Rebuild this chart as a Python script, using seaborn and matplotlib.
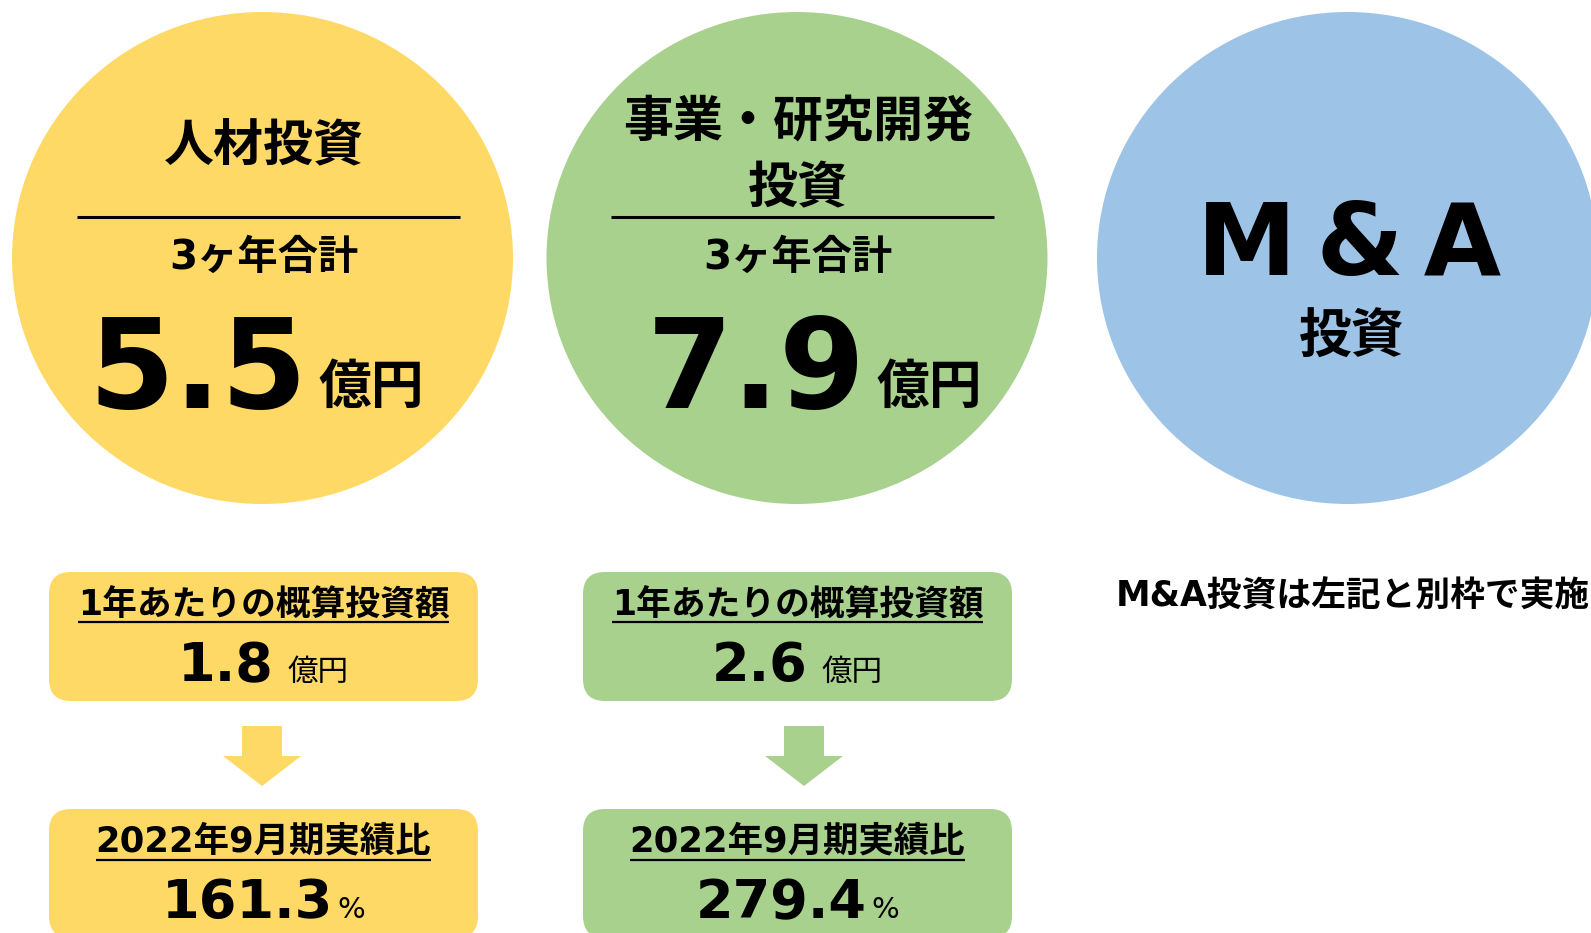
import matplotlib
matplotlib.use("Agg")
import matplotlib.pyplot as plt
from matplotlib.patches import Ellipse, FancyBboxPatch, Polygon
import seaborn as sns

# values
categories = ["人材投資", "事業・研究開発\n投資", "M & A\n投資"]
total_3y = ["5.5", "7.9"]
per_year = ["1.8", "2.6"]
vs_fy2022 = ["161.3", "279.4"]
colors = sns.color_palette(["#FFD966", "#A9D18E", "#9DC3E6"])

label_total = "3ヶ年合計"
label_year = "1年あたりの概算投資額"
label_ratio = "2022年9月期実績比"
unit_oku = "億円"
unit_pct = "%"
note_ma = "M&A投資は左記と別枠で実施"

# layout (pixels, 1 data unit == 1 px)
W, H = 1591, 933
circle_x = [262.5, 797, 1347.5]
circle_y = 258
circle_w, circle_h = 501, 492
box_x = [(49, 478), (583, 1012)]
box_top = [572, 809]
box_h = 129
arrow_x = [262, 804]

CJK = "Noto Sans CJK JP"
MIX = ["DejaVu Sans", CJK]

sns.set_theme(style="white")
plt.rcParams["font.family"] = [CJK, "DejaVu Sans"]
plt.rcParams["text.color"] = "black"

fig = plt.figure(figsize=(W / 100, H / 100), dpi=100)
ax = fig.add_axes([0, 0, 1, 1])
ax.set_xlim(0, W)
ax.set_ylim(H, 0)
ax.axis("off")
renderer = fig.canvas.get_renderer()


def pair(cx, y, big, small, big_kw, small_kw, gap, small_dy=0):
    # number + smaller unit on one baseline, centred as a group
    t1 = ax.text(0, y, big, ha="left", va="baseline", **big_kw)
    t2 = ax.text(0, y + small_dy, small, ha="left", va="baseline", **small_kw)
    w1 = t1.get_window_extent(renderer).width
    w2 = t2.get_window_extent(renderer).width
    x0 = cx - (w1 + gap + w2) / 2
    t1.set_x(x0)
    t2.set_x(x0 + w1 + gap)


def underlined(cx, y, s, size, offset):
    t = ax.text(cx, y, s, ha="center", va="center", fontsize=size,
                fontweight="bold", family=MIX)
    bb = t.get_window_extent(renderer)
    xs = ax.transData.inverted().transform([(bb.x0, 0), (bb.x1, 0)])[:, 0]
    ax.plot(xs, [y + offset, y + offset], color="black", lw=1.6,
            solid_capstyle="butt")


# circles
for i, cx in enumerate(circle_x):
    ax.add_patch(Ellipse((cx, circle_y), circle_w, circle_h, color=colors[i], lw=0))

# invested categories
big_kw = dict(fontsize=89, fontweight="bold", family="DejaVu Sans")
unit_kw = dict(fontsize=38, fontweight="bold", family=CJK)
title_y = [147, 156]
group_dx = [-6, 17]
for i in range(2):
    cx = circle_x[i]
    ax.text(cx + 1, title_y[i], categories[i], ha="center", va="center",
            fontsize=36, fontweight="bold", linespacing=1.38)
    ax.plot([cx - 186, cx + 197], [217, 217], color="black", lw=2.2,
            solid_capstyle="butt")
    ax.text(cx + 1, 258, label_total, ha="center", va="center", fontsize=29,
            fontweight="bold", family=MIX)
    pair(cx + group_dx[i], 408, total_3y[i], unit_oku, big_kw, unit_kw, 11,
         small_dy=-5)

# M&A circle
ma_title, ma_sub = categories[2].split("\n")
ax.text(circle_x[2] + 2, 248, ma_title.replace(" ", "\u2009"), ha="center",
        va="center", fontsize=72, fontweight="bold", family="DejaVu Sans")
ax.text(circle_x[2] + 4, 337, ma_sub, ha="center", va="center", fontsize=38,
        fontweight="bold")

# boxes and arrows
num_kw = dict(fontsize=39, fontweight="bold", family="DejaVu Sans")
oku_kw = dict(fontsize=22, family=CJK)
pct_kw = dict(fontsize=21, family="DejaVu Sans")
for i in range(2):
    x0, x1 = box_x[i]
    cx = (x0 + x1) / 2
    for top in box_top:
        ax.add_patch(FancyBboxPatch((x0, top), x1 - x0, box_h,
                                    boxstyle="round,pad=0,rounding_size=22",
                                    color=colors[i], lw=0))
    a = arrow_x[i]
    ax.add_patch(Polygon([(a - 20, 726), (a + 20, 726), (a + 20, 756),
                          (a + 39, 756), (a, 786), (a - 39, 756),
                          (a - 20, 756)], closed=True, color=colors[i], lw=0))

    underlined(cx, 605, label_year, 25, 17)
    pair(cx, 681, per_year[i], unit_oku, num_kw, oku_kw, 14)

    underlined(cx, 841, label_ratio, 25.5, 19)
    pair(cx, 918, vs_fy2022[i], unit_pct, num_kw, pct_kw, 4)

ax.text(1116, 597, note_ma, ha="left", va="center", fontsize=25,
        fontweight="bold", family=MIX)

fig.savefig("out.png", dpi=100)
